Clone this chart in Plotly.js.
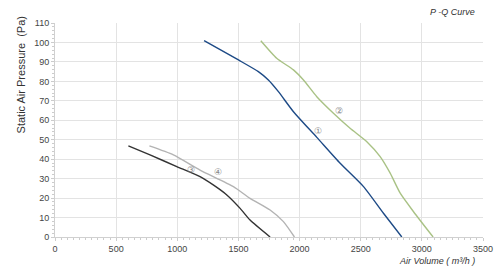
<!DOCTYPE html>
<html><head><meta charset="utf-8">
<script src="https://cdn.plot.ly/plotly-3.0.1.min.js"></script>
<style>html,body{margin:0;padding:0;background:#fff}#c{width:500px;height:278px}</style>
</head><body><div id="c"></div>
<script>
const q1 = [1219, 1500, 1663, 1745, 1827, 1950, 2141, 2332, 2523, 2686, 2836];
const p1 = [100.9, 91.0, 85.0, 80.7, 74.7, 64.4, 51.2, 37.9, 25.9, 12.2, 0];
const q2 = [1683, 1813, 1950, 2032, 2141, 2277, 2413, 2550, 2659, 2741, 2823, 2932, 3092];
const p2 = [100.9, 91.9, 85.9, 80.7, 72.1, 63.6, 55.9, 49.0, 41.3, 32.8, 22.5, 13.0, 0];
const q3 = [600, 777, 996, 1186, 1300, 1405, 1514, 1595, 1759];
const p3 = [46.8, 42.2, 36.2, 31.0, 26.5, 21.6, 14.7, 8.7, 0];
const q4 = [772, 968, 1186, 1459, 1595, 1759, 1868, 1958];
const p4 = [46.8, 42.2, 34.4, 25.9, 19.9, 13.9, 7.9, 0];
const curveColors = ['#1d4a86', '#a9c285', '#333333', '#b3b3b3'];
const labelText = ['①', '②', '③', '④'];
const labelQ = [2154, 2324, 1110, 1336];
const labelP = [54.6, 64.8, 34.6, 33.6];

const series = [[q1,p1],[q2,p2],[q3,p3],[q4,p4]];
const traces = series.map((s,i)=>({x:s[0], y:s[1], type:'scatter', mode:'lines',
  line:{color:curveColors[i], width:1.4, shape:'spline', smoothing:0.6}, hoverinfo:'skip'}));

const ann = labelText.map((t,i)=>({x:labelQ[i], y:labelP[i], xref:'x', yref:'y', text:t, showarrow:false,
  font:{family:'DejaVu Sans', size:9, color:'#888'}}));
ann.push({xref:'paper', yref:'paper', x:0.985, y:1.0, yshift:11, xanchor:'right', yanchor:'middle', text:'<i>P -Q Curve</i>', showarrow:false,
  font:{family:'Liberation Sans', size:9, color:'#333'}});
ann.push({xref:'paper', yref:'paper', x:0.985, y:0, yshift:-17, xanchor:'right', yanchor:'top', text:'<i>Air Volume ( m³/h )</i>', showarrow:false,
  font:{family:'Liberation Sans', size:9, color:'#333'}});
ann.push({xref:'paper', yref:'paper', x:0, xshift:-34, y:0.755, xanchor:'center', yanchor:'middle', textangle:-90, text:'Static Air Pressure  (Pa)', showarrow:false,
  font:{family:'Liberation Sans', size:11, color:'#333'}});

const layout = {
  width:500, height:278, margin:{l:55, r:17, t:23, b:41},
  paper_bgcolor:'#fff', plot_bgcolor:'#fff', showlegend:false,
  font:{family:'Liberation Sans', size:9, color:'#444'},
  xaxis:{range:[0,3500], dtick:500, tick0:0, showgrid:true, gridcolor:'#e3e3e3', gridwidth:1,
    showline:true, linecolor:'#d0d0d0', linewidth:1, zeroline:false, ticks:'outside', ticklen:3, tickcolor:'#ccc',
    minor:{dtick:50, ticks:'outside', ticklen:2, tickcolor:'#ccc', showgrid:false},
    tickfont:{size:9, color:'#444'}},
  yaxis:{range:[0,110], dtick:10, tick0:0, showgrid:true, gridcolor:'#e3e3e3', gridwidth:1,
    showline:true, linecolor:'#d0d0d0', linewidth:1, zeroline:false, ticks:'outside', ticklen:3, tickcolor:'#ccc',
    minor:{dtick:2, ticks:'outside', ticklen:2, tickcolor:'#ccc', showgrid:false},
    tickfont:{size:9, color:'#444'}},
  annotations:ann
};
Plotly.newPlot('c', traces, layout, {staticPlot:true});
</script></body></html>
